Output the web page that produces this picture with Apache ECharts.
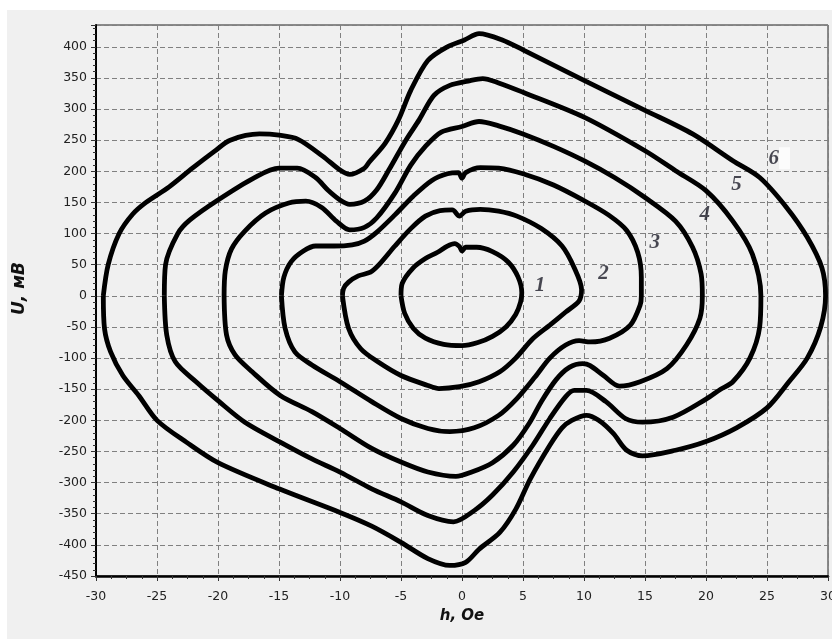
<!DOCTYPE html>
<html>
<head>
<meta charset="utf-8">
<script src="https://cdn.jsdelivr.net/npm/echarts@6/dist/echarts.min.js"></script>
<style>
  html, body { margin: 0; padding: 0; background: #fff; }
  #chart { position: absolute; left: 7px; top: 10px; width: 825px; height: 629px; }
</style>
</head>
<body>
<div id="chart"></div>
<script>
// loops of U(h): [h, U]
var curve1 = [[-5.0,0],[-4.9,20],[-4.0,45],[-3.0,60],[-2.0,70],[-1.2,80],[-0.6,84],[-0.2,79],[0,72],[0.3,78],[1.2,78],[2.5,71],[3.8,54],[4.6,30],[4.9,5],[4.8,-10],[4.4,-30],[3.6,-50],[2.5,-65],[1.3,-75],[0,-80],[-1.5,-78],[-3.0,-68],[-4.0,-52],[-4.7,-28],[-5.0,0]];
var curve2 = [[-9.8,0],[-9.7,12],[-9.3,22],[-8.5,32],[-7.5,38],[-6.8,50],[-5.5,80],[-4.2,108],[-3.0,128],[-1.8,137],[-0.8,138],[-0.2,128],[0.3,136],[1.5,139],[3,136],[4.5,128],[6.5,108],[8.2,80],[9.2,45],[9.8,10],[9.6,-8],[8.5,-26],[7.2,-47],[5.8,-69],[4.4,-100],[3.1,-122],[1.4,-138],[-0.2,-146],[-1.9,-149],[-2.8,-144],[-5,-128],[-6.9,-106],[-8.3,-85],[-9.3,-52],[-9.8,0]];
var curve3 = [[-14.8,0],[-14.6,30],[-14.0,55],[-13.0,72],[-12,80],[-10.5,80],[-9,82],[-8,88],[-7,102],[-5.5,130],[-4,160],[-2.5,185],[-1.2,196],[-0.3,198],[0,189],[0.3,198],[1.5,206],[3,205],[5,196],[7.5,178],[10,153],[12,130],[13.5,105],[14.4,70],[14.7,30],[14.7,0],[14.6,-15],[13.8,-47],[12.1,-68],[10.5,-74],[9.6,-72],[8.5,-79],[7.2,-100],[6,-130],[4.5,-165],[3,-192],[1,-212],[-1,-218],[-2.8,-213],[-5,-197],[-7.4,-170],[-10,-138],[-12.3,-111],[-13.7,-90],[-14.5,-52],[-14.8,0]];
var curve4 = [[-19.5,0],[-19.4,40],[-18.9,75],[-17.8,104],[-16.1,133],[-14.2,149],[-12.8,152],[-11.5,142],[-10.3,120],[-9.2,106],[-8,110],[-7,125],[-5.5,165],[-4.2,210],[-3,240],[-1.7,263],[0,272],[1.4,280],[3,273],[5,260],[7.5,240],[10,217],[12.5,190],[15,158],[17.5,120],[18.9,78],[19.6,35],[19.7,0],[19.5,-36],[18.4,-79],[16.8,-117],[14.6,-138],[12.9,-145],[11.6,-128],[10.5,-112],[9.9,-109],[8.8,-115],[7.7,-135],[6.5,-170],[5.5,-205],[4.2,-240],[2.5,-268],[0.8,-283],[-0.5,-290],[-2.8,-283],[-5,-267],[-7.4,-245],[-10,-213],[-12.3,-186],[-14.9,-160],[-17.2,-122],[-18.6,-95],[-19.3,-63],[-19.5,0]];
var curve5 = [[-24.4,0],[-24.3,50],[-23.3,100],[-22.3,122],[-20,154],[-17,190],[-15,205],[-13.5,205],[-12,190],[-11,170],[-10,154],[-9.2,147],[-8,152],[-7,170],[-6,202],[-4.6,250],[-3.5,283],[-2.3,322],[-1,338],[0.5,345],[1.7,349],[3,342],[5,327],[10,287],[15,233],[17.5,201],[20,169],[22.2,120],[23.8,67],[24.5,0],[24.4,-50],[23.6,-100],[22.2,-138],[21.2,-150],[20,-166],[17.3,-195],[14.8,-203],[13.4,-197],[11.8,-170],[10.2,-152],[9.2,-152],[8.5,-162],[7.2,-197],[5.8,-240],[4.2,-283],[2.5,-320],[1,-345],[-0.7,-363],[-2.8,-353],[-5,-331],[-7.4,-310],[-10,-283],[-12.3,-262],[-14.9,-235],[-17.8,-203],[-19.9,-170],[-21.8,-138],[-23.5,-106],[-24.2,-63],[-24.4,0]];
var curve6 = [[-29.4,0],[-29.0,50],[-28.1,100],[-27,131],[-25.9,150],[-24,175],[-22.1,205],[-20.3,232],[-19,250],[-16.6,260],[-15,258],[-13.4,251],[-11.4,224],[-10,202],[-9.2,195],[-8,205],[-7.6,215],[-6.3,245],[-5.2,283],[-4.2,330],[-2.8,378],[-1.2,400],[0.2,411],[1.4,421],[3.3,411],[5,395],[10,346],[15,298],[18.9,260],[22.2,217],[24.4,190],[26.6,142],[28.3,94],[29.5,45],[29.8,0],[29.4,-50],[28.3,-100],[26.8,-138],[25,-180],[22.5,-212],[20,-234],[17.5,-248],[14.8,-257],[13.5,-248],[12.4,-221],[11.2,-200],[10.2,-192],[9,-200],[8.2,-212],[7.2,-240],[5.6,-294],[4.4,-343],[3.1,-380],[1.4,-407],[0.3,-428],[-1,-433],[-2.8,-422],[-5,-396],[-7.4,-370],[-10,-348],[-15,-310],[-20,-268],[-22.6,-235],[-25,-200],[-26.5,-160],[-27.8,-128],[-28.8,-90],[-29.3,-53],[-29.4,0]];

var curveNames = ['1', '2', '3', '4', '5', '6'];
var curveLabelPos = [[6.4,17],[11.6,36],[15.8,85],[19.9,131],[22.5,178],[26.0,221]];

var curves = [curve1, curve2, curve3, curve4, curve5, curve6];

var chart = echarts.init(document.getElementById('chart'));

var series = curves.map(function (c, i) {
    return {
        name: curveNames[i],
        type: 'line',
        data: c,
        symbol: 'none',
        smooth: 0.3,
        lineStyle: { color: '#000', width: 4.8 },
        z: 3
    };
});

series.push({
    type: 'scatter',
    symbolSize: 0,
    data: curveLabelPos.map(function (p, i) { return { name: curveNames[i], value: p }; }),
    label: {
        show: true,
        position: 'inside',
        formatter: function (p) {
            return p.name === '6' ? '{n|6}{w|}' : '{n|' + p.name + '}';
        },
        rich: {
            n: {
                fontFamily: 'Liberation Serif',
                fontStyle: 'italic',
                fontWeight: 'bold',
                fontSize: 21,
                color: '#1c1c28'
            },
            w: { backgroundColor: '#fff', width: 11, height: 22 }
        }
    },
    z: 5
});

var nameFont = { fontFamily: 'DejaVu Sans', fontStyle: 'italic', fontWeight: 'bold', fontSize: 15, color: '#111' };

chart.setOption({
    animation: false,
    backgroundColor: '#f0f0f0',
    grid: {
        left: 89, right: 4, top: 15, bottom: 63,
        outerBoundsMode: 'none',
        containLabel: false,
        show: true, borderColor: '#222', borderWidth: 1, backgroundColor: '#f0f0f0'
    },
    xAxis: {
        type: 'value',
        min: -30, max: 30, interval: 5,
        name: 'h, Oe',
        nameLocation: 'middle',
        nameGap: 33,
        nameTextStyle: nameFont,
        axisLine: { onZero: false, lineStyle: { color: '#000', width: 2.5 } },
        axisTick: { length: 5, lineStyle: { color: '#333' } },
        minorTick: { show: true, splitNumber: 4, length: 3, lineStyle: { color: '#333' } },
        axisLabel: { margin: 14, fontFamily: 'DejaVu Sans', fontSize: 12.5, color: '#222' },
        splitLine: { lineStyle: { color: '#808080', type: [5, 3], width: 1 } }
    },
    yAxis: {
        type: 'value',
        min: -450, max: 435, interval: 50,
        name: 'U, мВ',
        nameLocation: 'middle',
        nameGap: 68,
        nameTextStyle: Object.assign({}, nameFont, { fontSize: 17, padding: [0, 0, 0, 24] }),
        axisLine: { onZero: false, lineStyle: { color: '#000', width: 2 } },
        axisTick: { length: 5, lineStyle: { color: '#333' } },
        minorTick: { show: true, splitNumber: 5, length: 3, lineStyle: { color: '#333' } },
        axisLabel: { margin: 9, showMaxLabel: false, fontFamily: 'DejaVu Sans', fontSize: 12.5, color: '#222' },
        splitLine: { lineStyle: { color: '#808080', type: [5, 3], width: 1 } }
    },
    series: series
});
</script>
</body>
</html>
